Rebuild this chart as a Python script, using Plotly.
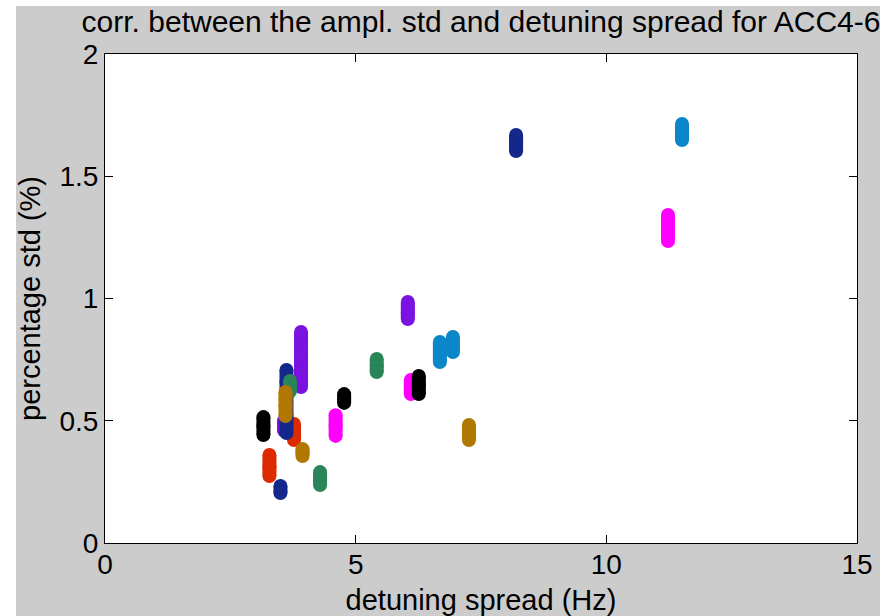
import plotly.graph_objects as go

# ---------------- data ----------------
navy_a_x = 8.20
navy_a_y = [1.603, 1.62, 1.64, 1.655, 1.669]
lightblue_a_x = 11.51
lightblue_a_y = [1.648, 1.67, 1.69, 1.714]
magenta_a_x = 11.23
magenta_a_y = [1.235, 1.26, 1.29, 1.32, 1.342]
purple_a_x = 6.04
purple_a_y = [0.916, 0.94, 0.965, 0.986]
lightblue_b_x = 6.68
lightblue_b_y = [0.740, 0.77, 0.80, 0.822]
lightblue_c_x = 6.94
lightblue_c_y = [0.781, 0.81, 0.843]
magenta_b_x = 6.10
magenta_b_y = [0.609, 0.64, 0.667]
black_a_x = 6.26
black_a_y = [0.609, 0.645, 0.683]
gold_a_x = 7.26
gold_a_y = [0.421, 0.45, 0.483]
green_a_x = 5.42
green_a_y = [0.699, 0.725, 0.753]
black_b_x = 4.77
black_b_y = [0.573, 0.59, 0.609]
magenta_c_x = 4.60
magenta_c_y = [0.438, 0.48, 0.523]
green_b_x = 4.29
green_b_y = [0.237, 0.26, 0.290]
navy_b_x = 3.50
navy_b_y = [0.204, 0.233]
red_a_x = 3.28
red_a_y = [0.274, 0.31, 0.360]
black_c_x = 3.16
black_c_y = [0.442, 0.48, 0.515]
purple_b_x = 3.57
purple_b_y = [0.46, 0.50]
red_b_x = 3.77
red_b_y = [0.421, 0.45, 0.487]
purple_c_x = 3.91
purple_c_y = [0.638, 0.70, 0.76, 0.82, 0.863]
navy_c_x = 3.62
navy_c_y = [0.450, 0.52, 0.60, 0.66, 0.708]
green_c_x = 3.69
green_c_y = [0.62, 0.638, 0.663]
gold_b_x = 3.60
gold_b_y = [0.519, 0.56, 0.59, 0.618]
gold_c_x = 3.94
gold_c_y = [0.356, 0.37, 0.384]

x_ticks = [0, 5, 10, 15]
x_tick_labels = ["0", "5", "10", "15"]
y_ticks = [0, 0.5, 1, 1.5, 2]
y_tick_labels = ["0", "0.5", "1", "1.5", "2"]

title_text = "corr. between the ampl. std and detuning spread for ACC4-6"
x_title = "detuning spread (Hz)"
y_title = "percentage std (%)"

# ---------------- styles ----------------
NAVY = "#14288c"
LBLUE = "#0b87c9"
MAGENTA = "#ff00ff"
PURPLE = "#7a12e0"
GREEN = "#2a8559"
BLACK = "#000000"
RED = "#dd2a00"
GOLD = "#b07800"

clusters = [
    (navy_a_x, navy_a_y, NAVY),
    (lightblue_a_x, lightblue_a_y, LBLUE),
    (magenta_a_x, magenta_a_y, MAGENTA),
    (purple_a_x, purple_a_y, PURPLE),
    (lightblue_b_x, lightblue_b_y, LBLUE),
    (lightblue_c_x, lightblue_c_y, LBLUE),
    (magenta_b_x, magenta_b_y, MAGENTA),
    (black_a_x, black_a_y, BLACK),
    (gold_a_x, gold_a_y, GOLD),
    (green_a_x, green_a_y, GREEN),
    (black_b_x, black_b_y, BLACK),
    (magenta_c_x, magenta_c_y, MAGENTA),
    (green_b_x, green_b_y, GREEN),
    (navy_b_x, navy_b_y, NAVY),
    (red_a_x, red_a_y, RED),
    (black_c_x, black_c_y, BLACK),
    (purple_b_x, purple_b_y, PURPLE),
    (red_b_x, red_b_y, RED),
    (purple_c_x, purple_c_y, PURPLE),
    (navy_c_x, navy_c_y, NAVY),
    (green_c_x, green_c_y, GREEN),
    (gold_b_x, gold_b_y, GOLD),
    (gold_c_x, gold_c_y, GOLD),
]

FONT = "Liberation Sans, Arial, Helvetica, sans-serif"
W, H = 895, 616
L, R, T, B = 105, 857, 54, 543   # plot area in px
STREAK = 14

fig = go.Figure()
for cx, cy, col in clusters:
    fig.add_trace(go.Scatter(
        x=[cx] * len(cy), y=cy, mode="lines+markers",
        line=dict(color=col, width=STREAK),
        marker=dict(color=col, size=STREAK, line=dict(width=0)),
        showlegend=False, hoverinfo="x+y",
    ))

def px_x(p):
    return (p - L) / (R - L)

def px_y(p):
    return (B - p) / (B - T)

GRAY = "#cccccc"
shapes = []
for (a, b, c, d) in [(0, 16, 0, H), (0, W, 0, 6), (880, W, 0, H)]:
    shapes.append(dict(type="rect", xref="paper", yref="paper",
                       x0=px_x(a), x1=px_x(b), y0=px_y(d), y1=px_y(c),
                       fillcolor="white", line=dict(width=0), layer="above"))

axis_common = dict(
    showline=True, linecolor="black", linewidth=1, mirror="ticks",
    ticks="inside", ticklen=8, tickwidth=1, tickcolor="black",
    showgrid=False, zeroline=False, automargin=False,
    tickfont=dict(family=FONT, size=28, color="black"),
)

fig.update_layout(
    width=W, height=H, autosize=False,
    margin=dict(l=L, r=W - R, t=T, b=H - B, pad=0, autoexpand=False),
    paper_bgcolor=GRAY, plot_bgcolor="white",
    title=dict(text=title_text, x=0.5, xref="paper", xanchor="center",
               y=1 - 21 / H, yref="container", yanchor="middle",
               font=dict(family=FONT, size=30, color="black")),
    xaxis=dict(range=[0, 15], tickvals=x_ticks, ticktext=x_tick_labels,
               ticklabelstandoff=-4,
               title=dict(text=x_title, font=dict(family=FONT, size=29, color="black"), standoff=12),
               **axis_common),
    yaxis=dict(range=[0, 2], tickvals=y_ticks, ticktext=y_tick_labels,
               title=dict(text=y_title, font=dict(family=FONT, size=29, color="black"), standoff=10),
               **axis_common),
    shapes=shapes,
)

fig.write_html("out.html")
